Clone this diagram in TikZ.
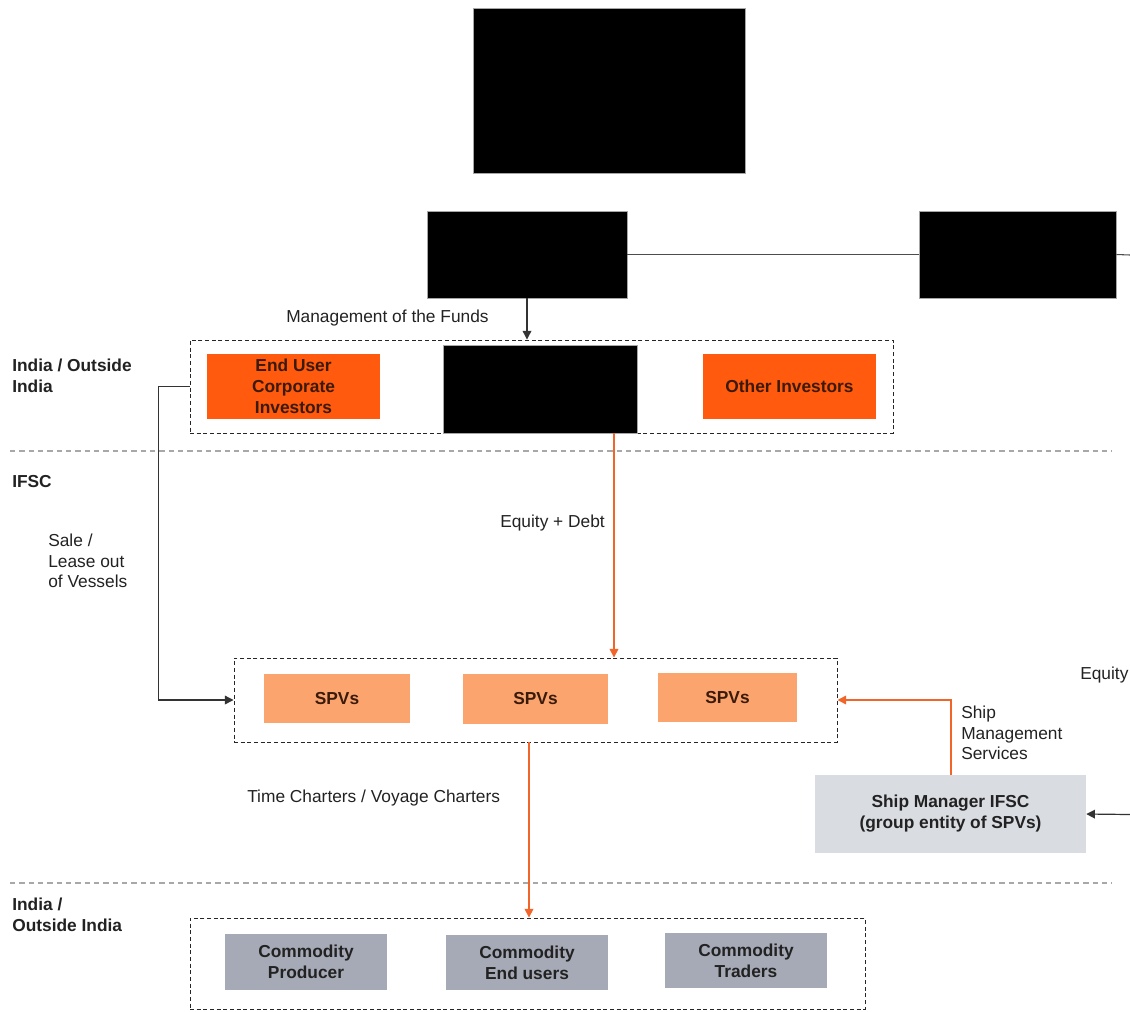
\documentclass[tikz,border=0pt]{standalone}
\usepackage{fontspec}
\setmainfont{Liberation Sans}
\usetikzlibrary{fit,arrows.meta}
\definecolor{orgA}{HTML}{FF5A0D}
\definecolor{spvC}{HTML}{FBA46E}
\definecolor{comC}{HTML}{A6AAB6}
\definecolor{smC}{HTML}{D9DCE1}
\definecolor{orgL}{HTML}{F2652A}
\definecolor{sepC}{HTML}{A8A8A8}
\definecolor{txtC}{HTML}{222222}
\definecolor{brownT}{HTML}{3A1A0A}
\begin{document}
\begin{tikzpicture}[x=0.75pt,y=-0.75pt,
  every node/.style={font=\fontsize{13}{15.5}\selectfont, text=txtC},
  boxbase/.style={inner sep=0pt},
  boxtext/.style={inner sep=0pt, align=center, font=\fontsize{13}{15.75}\selectfont\bfseries},
  redact/.style={boxbase, fill=black, draw=gray!70, line width=0.6pt},
  orgbox/.style={boxbase, fill=orgA},
  spvbox/.style={boxbase, fill=spvC},
  combox/.style={boxbase, fill=comC},
  smbox/.style={boxbase, fill=smC},
  grpbox/.style={inner sep=0pt, draw=black!85, line width=0.7pt, dash pattern=on 3pt off 2pt},
  sepline/.style={draw=sepC, line width=0.8pt, dash pattern=on 4pt off 3pt},
  blkline/.style={draw=black!80, line width=0.9pt},
  orgline/.style={draw=orgL, line width=1.1pt},
  tip/.style={-{Triangle[length=6.5pt,width=6.5pt]}},
  lbl/.style={anchor=west, inner sep=0pt, align=left},
  blbl/.style={lbl, font=\fontsize{13}{15.5}\selectfont\bfseries}
]
\useasboundingbox (0,0) rectangle (1130,1011);

% redacted boxes
\node[redact, fit={(473,8)(745,173)}] (top) {};
\node[redact, fit={(427,211)(627,298)}] (blkL) {};
\node[redact, fit={(919,211)(1116,298)}] (blkR) {};
\coordinate (rEdge) at (1130,255);
\draw[draw=black!70, line width=0.8pt] (blkL.east) -- (blkR.west);
\draw[draw=black!70, line width=0.8pt] (blkR.east) -- (rEdge);

% separators
\coordinate (s1a) at (10,451); \coordinate (s1b) at (1112,451);
\coordinate (s2a) at (10,883); \coordinate (s2b) at (1112,883);
\draw[sepline] (s1a) -- (s1b);
\draw[sepline] (s2a) -- (s2b);

% group 1
\node[grpbox, fit={(190,340)(893,433)}] (g1) {};
\node[orgbox, fit={(207,354)(380,419)}] (enduser) {};
\node[boxtext, text=brownT] (endusert) at (enduser.center) {End User\\Corporate\\Investors};
\node[redact, fit={(443,345)(637,433)}] (blkM) {};
\node[orgbox, fit={(703,354)(876,419)}] (other) {};
\node[boxtext, text=brownT] (othert) at (other.center) {Other Investors};

% group 2
\node[grpbox, fit={(234,658)(837,742)}] (g2) {};
\node[spvbox, fit={(264,674)(410,723)}] (spv1) {};
\node[spvbox, fit={(463,674)(608,724)}] (spv2) {};
\node[spvbox, fit={(658,673)(797,722)}] (spv3) {};
\node[boxtext, text=brownT] (spv1t) at (spv1.center) {SPVs};
\node[boxtext, text=brownT] (spv2t) at (spv2.center) {SPVs};
\node[boxtext, text=brownT] (spv3t) at (spv3.center) {SPVs};

% group 3
\node[grpbox, fit={(190,918)(865,1009)}] (g3) {};
\node[combox, fit={(225,934)(387,990)}] (com1) {};
\node[combox, fit={(446,935)(608,990)}] (com2) {};
\node[combox, fit={(665,933)(827,988)}] (com3) {};
\node[boxtext] (com1t) at (com1.center) {Commodity\\Producer};
\node[boxtext] (com2t) at (com2.center) {Commodity\\End users};
\node[boxtext] (com3t) at (com3.center) {Commodity\\Traders};

% ship manager
\node[smbox, fit={(815,775)(1086,853)}] (sm) {};
\node[boxtext] (smt) at (sm.center) {Ship Manager IFSC\\(group entity of SPVs)};

% connectors
\draw[blkline, tip] (blkL.south) -- (blkL.south |- g1.north);
\draw[blkline, tip] (g1.west) -- ++(-31,0) |- (g2.west);
\coordinate (eqd) at (614,433);
\draw[orgline, tip] (eqd) -- (eqd |- g2.north);
\coordinate (tcv) at (529,742);
\draw[orgline, tip] (tcv) -- (tcv |- g3.north);
\coordinate (smtop) at (951,775);
\draw[orgline, tip] (smtop) |- (g2.east);
\coordinate (rEdge2) at (1130,814.5);
\draw[blkline, tip] (rEdge2) -- (sm.east);

% labels
\node[lbl] (lmf) at (286,318) {Management of the Funds};
\node[blbl] (lio1) at (12,376) {India / Outside\\India};
\node[blbl] (lifsc) at (12,482) {IFSC};
\node[lbl] (lsale) at (48,561) {Sale /\\Lease out\\of Vessels};
\node[lbl] (leqd) at (500,523) {Equity + Debt};
\node[lbl] (ltc) at (247,798) {Time Charters / Voyage Charters};
\node[lbl] (lsms) at (961,733) {Ship\\Management\\Services};
\node[lbl] (leq) at (1080,675) {Equity};
\node[blbl] (lio2) at (12,915) {India /\\Outside India};
\end{tikzpicture}
\end{document}
